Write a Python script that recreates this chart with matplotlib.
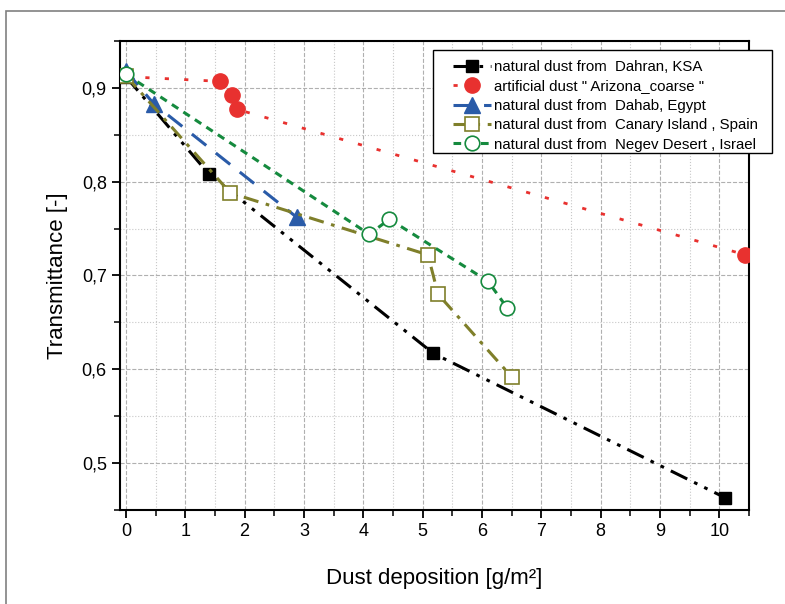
import matplotlib.pyplot as plt
from matplotlib.ticker import MultipleLocator, FuncFormatter
from matplotlib.patches import Rectangle

plt.rcParams['font.family'] = ['Liberation Sans', 'DejaVu Sans']

# data
dahran_x = [0, 1.4, 5.18, 10.1]
dahran_y = [0.912, 0.808, 0.617, 0.463]

arizona_x = [0, 1.58, 1.78, 1.88, 10.44]
arizona_y = [0.912, 0.907, 0.892, 0.877, 0.722]

dahab_x = [0, 0.47, 2.88]
dahab_y = [0.918, 0.883, 0.762]

canary_x = [0, 1.76, 5.09, 5.26, 6.5]
canary_y = [0.913, 0.788, 0.722, 0.680, 0.592]

negev_x = [0, 4.1, 4.44, 6.1, 6.43]
negev_y = [0.9146, 0.744, 0.760, 0.694, 0.665]

W, H = 785, 604
fig = plt.figure(figsize=(W / 100, H / 100), dpi=100)
ax = fig.add_axes([120 / W, 1 - 510 / H, 629 / W, 469 / H])

# outer frame
fig.patches.append(Rectangle((5.5 / W, -0.1), 1.2, 1.1 - 11 / H,
                             transform=fig.transFigure, fill=False,
                             edgecolor='#808080', linewidth=1.2))

ax.plot(dahran_x, dahran_y, color='black', lw=2.2, ls=(0, (6, 2.5, 1.2, 2.5, 1.2, 2.5)),
        marker='s', ms=9, label='natural dust from  Dahran, KSA', zorder=3)
ax.plot(arizona_x, arizona_y, color='#e8312f', lw=2, ls=(0, (1.5, 5.5)),
        marker='o', ms=11, markevery=[1, 2, 3, 4],
        label='artificial dust " Arizona_coarse "', zorder=3)
ax.plot(dahab_x, dahab_y, color='#2a5ba8', lw=2.2, ls=(0, (6, 4)),
        marker='^', ms=11, label='natural dust from  Dahab, Egypt', zorder=3)
ax.plot(canary_x, canary_y, color='#7f7f2a', lw=2.2, ls=(0, (5, 2.5, 1.2, 2.5)),
        marker='s', ms=9.5, mfc='white', mew=1.2,
        label='natural dust from  Canary Island , Spain', zorder=4)
ax.plot(negev_x, negev_y, color='#158a3e', lw=2.2, ls=(0, (2.5, 2)),
        marker='o', ms=10.5, mfc='white', mew=1.2,
        label='natural dust from  Negev Desert , Israel', zorder=5)

ax.set_xlim(-0.1, 10.5)
ax.set_ylim(0.45, 0.95)
ax.xaxis.set_major_locator(MultipleLocator(1))
ax.xaxis.set_minor_locator(MultipleLocator(0.5))
ax.yaxis.set_major_locator(MultipleLocator(0.1))
ax.yaxis.set_minor_locator(MultipleLocator(0.05))
ax.yaxis.set_major_formatter(FuncFormatter(lambda v, p: ('%.1f' % v).replace('.', ',')))

ax.grid(which='major', color='#b0b0b0', ls='--', lw=0.8)
ax.grid(which='minor', color='#c8c8c8', ls=':', lw=0.8)
ax.set_axisbelow(True)

ax.tick_params(which='major', direction='out', length=6, width=1.3, labelsize=13)
ax.tick_params(which='minor', direction='out', length=4, width=1.1)
for s in ax.spines.values():
    s.set_linewidth(1.5)

ax.set_xlabel('Dust deposition [g/m²]', fontsize=16, labelpad=20)
ax.set_ylabel('Transmittance [-]', fontsize=16, labelpad=10)

# legend box drawn separately so it can be placed exactly
fig.patches.append(Rectangle((433 / W, 1 - 153 / H), 339 / W, 103 / H,
                             transform=fig.transFigure, facecolor='white',
                             edgecolor='black', linewidth=1.0, zorder=5))
leg = fig.legend(loc='upper left', bbox_to_anchor=(453 / W, 1 - 60 / H),
                 borderaxespad=0, borderpad=0, fontsize=10.8, frameon=False,
                 handlelength=2.5, labelspacing=0.36, handletextpad=0.25)
leg.set_zorder(6)

plt.savefig('out.png', dpi=100)
